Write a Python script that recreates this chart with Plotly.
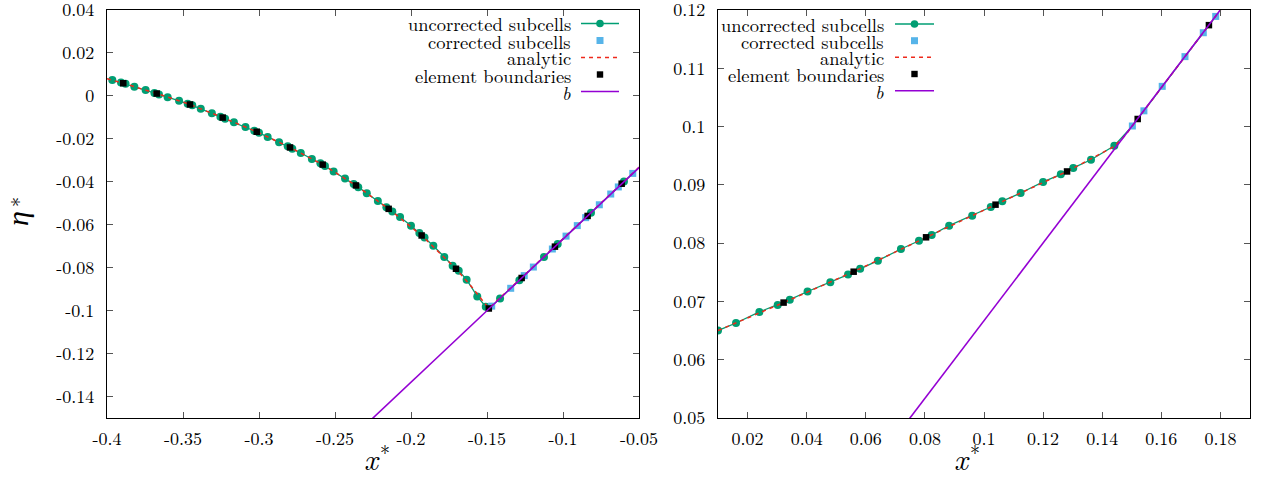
import plotly.graph_objects as go

W, H = 1261, 494
FONT = "Latin Modern Roman"
GREEN = "#009e73"
BLUE = "#56b4e9"
RED = "#ee2a1c"
PURPLE = "#9400d3"

# ---------------- left panel data ----------------
L_unc_x = [-0.3965, -0.3908,
           -0.3878, -0.3820, -0.3746, -0.3688,
           -0.3658, -0.3601, -0.3526, -0.3469,
           -0.3439, -0.3383, -0.3310, -0.3254,
           -0.3223, -0.3165, -0.3089, -0.3031,
           -0.3000, -0.2943, -0.2868, -0.2811,
           -0.2781, -0.2725, -0.2652, -0.2596,
           -0.2566, -0.2509, -0.2434, -0.2377,
           -0.2347, -0.2291, -0.2218, -0.2162,
           -0.2123, -0.2072, -0.2000, -0.1945,
           -0.1911, -0.1853, -0.1781, -0.1726,
           -0.1686, -0.1634, -0.1564, -0.1508,
           -0.1414, -0.1287, -0.1125, -0.1035, -0.0816, -0.0599]
L_unc_y = [0.0074, 0.0062,
           0.0056, 0.0043, 0.0027, 0.0014,
           0.0007, -0.0006, -0.0023, -0.0036,
           -0.0044, -0.0060, -0.0081, -0.0097,
           -0.0106, -0.0123, -0.0145, -0.0162,
           -0.0172, -0.0191, -0.0216, -0.0235,
           -0.0246, -0.0266, -0.0294, -0.0314,
           -0.0327, -0.0352, -0.0385, -0.0410,
           -0.0425, -0.0453, -0.0490, -0.0518,
           -0.0538, -0.0564, -0.0605, -0.0639,
           -0.0659, -0.0698, -0.0750, -0.0791,
           -0.0814, -0.0856, -0.0934, -0.0982,
           -0.0943, -0.0858, -0.0750, -0.0690, -0.0544, -0.0399]
L_cor_x = [-0.1469, -0.1344, -0.1255, -0.1195, -0.1070, -0.0980,
           -0.0906, -0.0851, -0.0761, -0.0686, -0.0636, -0.0541]
L_cor_y = [-0.0979, -0.0896, -0.0837, -0.0797, -0.0713, -0.0653,
           -0.0604, -0.0567, -0.0507, -0.0457, -0.0424, -0.0361]
L_elem_x = [-0.3893, -0.3673, -0.3454, -0.3239, -0.3015, -0.2796, -0.2581, -0.2362,
            -0.2147, -0.1930, -0.1704, -0.1488, -0.1272, -0.1053, -0.0838, -0.0614]
L_elem_y = [0.0059, 0.0011, -0.0040, -0.0101, -0.0167, -0.0240, -0.0320, -0.0417,
            -0.0526, -0.0650, -0.0805, -0.0990, -0.0848, -0.0702, -0.0559, -0.0409]
L_ana_x = [-0.4000, -0.3893, -0.3673, -0.3454, -0.3239, -0.3015, -0.2796, -0.2581,
           -0.2362, -0.2147, -0.1930, -0.1704, -0.1600, -0.1488, -0.0500]
L_ana_y = [0.0080, 0.0059, 0.0011, -0.0040, -0.0101, -0.0167, -0.0240, -0.0320,
           -0.0417, -0.0526, -0.0650, -0.0805, -0.0890, -0.0990, -0.0333]
L_b_x = [-0.2400, -0.0400]
L_b_y = [-0.1600, -0.0267]

L_xticks = [-0.4, -0.35, -0.3, -0.25, -0.2, -0.15, -0.1, -0.05]
L_xtext = ["-0.4", "-0.35", "-0.3", "-0.25", "-0.2", "-0.15", "-0.1", "-0.05"]
L_yticks = [0.04, 0.02, 0.0, -0.02, -0.04, -0.06, -0.08, -0.1, -0.12, -0.14]
L_ytext = ["0.04", "0.02", "0", "-0.02", "-0.04", "-0.06", "-0.08", "-0.1", "-0.12", "-0.14"]

# ---------------- right panel data ----------------
R_unc_x = [0.0100, 0.0161, 0.0240, 0.0302, 0.0343, 0.0403, 0.0480, 0.0540,
           0.0581, 0.0641, 0.0719, 0.0780, 0.0823, 0.0882, 0.0960, 0.1023,
           0.1062, 0.1124, 0.1200, 0.1260, 0.1302, 0.1362, 0.1441]
R_unc_y = [0.0650, 0.0663, 0.0682, 0.0694, 0.0703, 0.0717, 0.0733, 0.0746,
           0.0756, 0.0770, 0.0790, 0.0804, 0.0814, 0.0830, 0.0847, 0.0862,
           0.0872, 0.0886, 0.0905, 0.0918, 0.0929, 0.0943, 0.0967]
R_cor_x = [0.1502, 0.1541, 0.1603, 0.1680, 0.1742, 0.1784]
R_cor_y = [0.1001, 0.1027, 0.1069, 0.1120, 0.1161, 0.1189]
R_elem_x = [0.0322, 0.0559, 0.0804, 0.1039, 0.1281, 0.1520, 0.1761]
R_elem_y = [0.0698, 0.0751, 0.0810, 0.0866, 0.0923, 0.1013, 0.1174]
R_ana_x = [0.0100, 0.0322, 0.0559, 0.0804, 0.1039, 0.1281, 0.1441, 0.1478, 0.1900]
R_ana_y = [0.0650, 0.0698, 0.0751, 0.0810, 0.0866, 0.0923, 0.0966, 0.0985, 0.1267]
R_b_x = [0.0700, 0.1900]
R_b_y = [0.0467, 0.1267]

R_xticks = [0.02, 0.04, 0.06, 0.08, 0.1, 0.12, 0.14, 0.16, 0.18]
R_xtext = ["0.02", "0.04", "0.06", "0.08", "0.1", "0.12", "0.14", "0.16", "0.18"]
R_yticks = [0.05, 0.06, 0.07, 0.08, 0.09, 0.1, 0.11, 0.12]
R_ytext = ["0.05", "0.06", "0.07", "0.08", "0.09", "0.1", "0.11", "0.12"]

legend_labels = ["uncorrected subcells", "corrected subcells", "analytic",
                 "element boundaries", "<i>b</i>"]

fig = go.Figure()


def add_panel(xa, ya, ux, uy, cx, cy, ax, ay, ex, ey, bx, by):
    pts = sorted(zip(ux + cx, uy + cy))
    fig.add_trace(go.Scatter(x=[p[0] for p in pts], y=[p[1] for p in pts], mode="lines",
                             line=dict(color=GREEN, width=1.3), xaxis=xa, yaxis=ya,
                             showlegend=False, hoverinfo="skip"))
    fig.add_trace(go.Scatter(x=ux, y=uy, mode="markers", xaxis=xa, yaxis=ya,
                             marker=dict(color=GREEN, size=8, symbol="circle"),
                             showlegend=False))
    fig.add_trace(go.Scatter(x=cx, y=cy, mode="markers", xaxis=xa, yaxis=ya,
                             marker=dict(color=BLUE, size=7, symbol="square"),
                             showlegend=False))
    fig.add_trace(go.Scatter(x=ax, y=ay, mode="lines", xaxis=xa, yaxis=ya,
                             line=dict(color=RED, width=1.5, dash="4px,4px"),
                             showlegend=False))
    fig.add_trace(go.Scatter(x=ex, y=ey, mode="markers", xaxis=xa, yaxis=ya,
                             marker=dict(color="black", size=6.5, symbol="square"),
                             showlegend=False))
    fig.add_trace(go.Scatter(x=bx, y=by, mode="lines", xaxis=xa, yaxis=ya,
                             line=dict(color=PURPLE, width=1.6), showlegend=False))


add_panel("x", "y", L_unc_x, L_unc_y, L_cor_x, L_cor_y, L_ana_x, L_ana_y,
          L_elem_x, L_elem_y, L_b_x, L_b_y)
add_panel("x2", "y2", R_unc_x, R_unc_y, R_cor_x, R_cor_y, R_ana_x, R_ana_y,
          R_elem_x, R_elem_y, R_b_x, R_b_y)

tickfont = dict(family=FONT, size=18, color="black")
common = dict(ticks="inside", ticklen=6, tickcolor="#555555", tickwidth=1,
              showline=True, linecolor="black", linewidth=1.3, mirror="ticks",
              showgrid=False, zeroline=False, tickfont=tickfont, automargin=False,
              ticklabeloverflow="allow")

Y0 = 1 - 418 / H
Y1 = 1 - 10 / H
fig.update_layout(
    width=W, height=H,
    autosize=False,
    margin=dict(l=0, r=0, t=0, b=0, pad=0, autoexpand=False),
    paper_bgcolor="white", plot_bgcolor="white",
    showlegend=False,
    font=dict(family=FONT, size=18, color="black"),
    xaxis=dict(domain=[107 / W, 639 / W], range=[-0.4, -0.05], tickmode="array",
               tickvals=L_xticks, ticktext=L_xtext, anchor="y", ticklabelstandoff=4, **common),
    yaxis=dict(domain=[Y0, Y1], range=[-0.15, 0.04], tickmode="array",
               tickvals=L_yticks, ticktext=L_ytext, anchor="x", ticklabelstandoff=8, **common),
    xaxis2=dict(domain=[718 / W, 1250 / W], range=[0.01, 0.19], tickmode="array",
                tickvals=R_xticks, ticktext=R_xtext, anchor="y2", ticklabelstandoff=4, **common),
    yaxis2=dict(domain=[Y0, Y1], range=[0.05, 0.12], tickmode="array",
                tickvals=R_yticks, ticktext=R_ytext, anchor="x2", ticklabelstandoff=8, **common),
)

annotations = []
shapes = []


def px(x):
    return x / W


def py(y):
    return 1 - y / H


def add_legend(text_right, s0, s1, rows):
    for lab, yy in zip(legend_labels, rows):
        annotations.append(dict(x=px(text_right), y=py(yy), xref="paper", yref="paper",
                                text=lab, showarrow=False, xanchor="right", yanchor="middle",
                                font=dict(family=FONT, size=18.5, color="black")))
    cxm = (s0 + s1) / 2
    shapes.append(dict(type="line", xref="paper", yref="paper", x0=px(s0), x1=px(s1),
                       y0=py(rows[0]), y1=py(rows[0]), line=dict(color=GREEN, width=1.3)))
    r = 3.8
    shapes.append(dict(type="circle", xref="paper", yref="paper", x0=px(cxm - r), x1=px(cxm + r),
                       y0=py(rows[0] + r), y1=py(rows[0] - r), fillcolor=GREEN,
                       line=dict(width=0)))
    r = 3.5
    shapes.append(dict(type="rect", xref="paper", yref="paper", x0=px(cxm - r), x1=px(cxm + r),
                       y0=py(rows[1] + r), y1=py(rows[1] - r), fillcolor=BLUE,
                       line=dict(width=0)))
    shapes.append(dict(type="line", xref="paper", yref="paper", x0=px(s0), x1=px(s1),
                       y0=py(rows[2]), y1=py(rows[2]),
                       line=dict(color=RED, width=1.5, dash="4px,4px")))
    r = 3.2
    shapes.append(dict(type="rect", xref="paper", yref="paper", x0=px(cxm - r), x1=px(cxm + r),
                       y0=py(rows[3] + r), y1=py(rows[3] - r), fillcolor="black",
                       line=dict(width=0)))
    shapes.append(dict(type="line", xref="paper", yref="paper", x0=px(s0), x1=px(s1),
                       y0=py(rows[4]), y1=py(rows[4]), line=dict(color=PURPLE, width=1.6)))


add_legend(573, 581, 619, [23.5, 40.5, 57.5, 74.5, 91.5])
add_legend(886, 895, 934, [24, 40.7, 57.3, 74, 90.7])


def add_text(x, y, text, size, angle=0):
    annotations.append(dict(x=px(x), y=py(y), xref="paper", yref="paper", text=text,
                            showarrow=False, textangle=angle, xanchor="center",
                            yanchor="middle", font=dict(family=FONT, size=size, color="black")))


# axis titles (x* under each panel, rotated eta* on the left)
for cx in (372, 962):
    add_text(cx, 457, "<i>x</i>", 30)
    add_text(cx + 13, 451, "*", 20)
add_text(15, 219, "<i>η</i>", 30, -90)
add_text(17, 202, "*", 20, -90)

fig.update_layout(annotations=annotations, shapes=shapes)
fig.write_html("out.html", config={"displayModeBar": False},
               post_script="document.body.style.margin='0px';document.body.style.overflow='hidden';")
